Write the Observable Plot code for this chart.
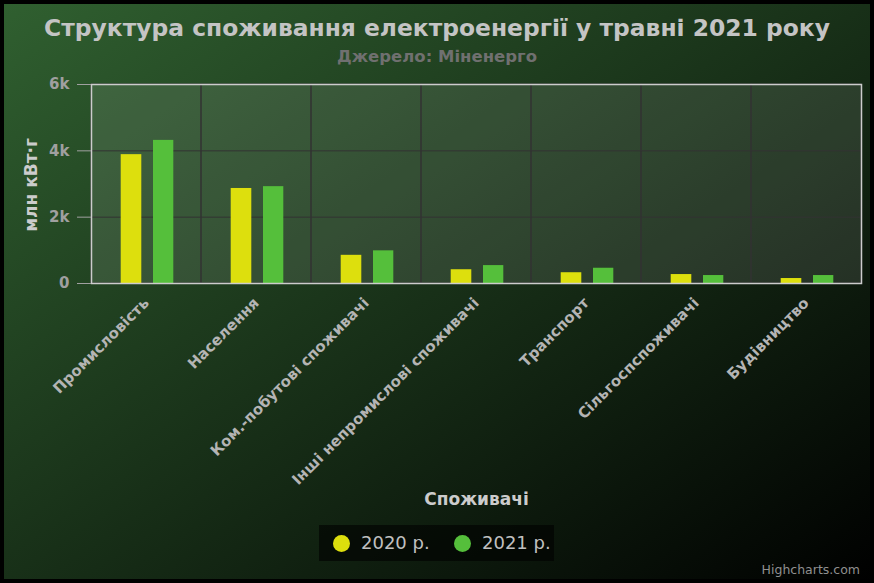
<!DOCTYPE html>
<html>
<head>
<meta charset="utf-8">
<script src="https://cdn.jsdelivr.net/npm/d3@7"></script>
<script src="https://cdn.jsdelivr.net/npm/@observablehq/plot@0.6"></script>
<style>
  html, body { margin: 0; padding: 0; background: #000; }
  #chart { position: relative; width: 874px; height: 583px; overflow: hidden;
    background: linear-gradient(to bottom right, rgb(48,96,48), rgb(0,0,0));
    font-family: "DejaVu Sans", sans-serif; }
  #border { position: absolute; left: 0; top: 0; width: 874px; height: 583px; box-sizing: border-box;
    border: 4px solid #000; pointer-events: none; }
  #title { position: absolute; left: 0; width: 874px; top: 13px; text-align: center;
    font-weight: bold; font-size: 23.4px; color: #c4c4c4; line-height: 30px; }
  #subtitle { position: absolute; left: 0; width: 874px; top: 46px; text-align: center;
    font-weight: bold; font-size: 16.5px; color: #707070; line-height: 22px; }
  #plot { position: absolute; left: 0; top: 70px; }
  #legend { position: absolute; left: 319px; top: 525px; width: 235px; height: 36px;
    background: rgba(0,0,0,0.6); }
  .item { position: absolute; top: 0; height: 36px; line-height: 36px; font-size: 18px; color: #c0c0c0; }
  .dot { position: absolute; top: 10px; width: 17px; height: 17px; border-radius: 50%; }
  #credits { position: absolute; right: 14px; top: 562px; font-size: 12.5px; color: #909090; }
</style>
</head>
<body>
<div id="chart">
  <div id="title"></div>
  <div id="subtitle"></div>
  <div id="plot"></div>
  <div id="legend"></div>
  <div id="credits">Highcharts.com</div>
  <div id="border"></div>
</div>
<script>
const titleText = "Структура споживання електроенергії у травні 2021 року";
const subtitleText = "Джерело: Міненерго";
const yAxisTitle = "млн кВт·г";
const xAxisTitle = "Споживачі";
const categories = ["Промисловість", "Населення", "Ком.-побутові споживачі", "Інші непромислові споживачі", "Транспорт", "Сільгоспспоживачі", "Будівництво"];
const seriesNames = ["2020 р.", "2021 р."];
const seriesColors = ["#DDDF0D", "#55BF3B"];
const values2020 = [3885, 2865, 850, 415, 325, 270, 150];
const values2021 = [4315, 2920, 985, 540, 460, 240, 240];
const yTicks = [0, 2000, 4000, 6000];
const yMax = 6000;

document.getElementById("title").textContent = titleText;
document.getElementById("subtitle").textContent = subtitleText;

const plot = Plot.plot({
  width: 874,
  height: 440,
  marginLeft: 91,
  marginRight: 13,
  marginTop: 14,
  marginBottom: 227,
  style: { fontFamily: "DejaVu Sans, sans-serif", background: "transparent", overflow: "visible" },
  x: { type: "band", domain: categories, padding: 0, axis: null },
  y: { domain: [0, yMax], axis: null },
  marks: [
    Plot.frame({ fill: "white", fillOpacity: 0.1 }),
    Plot.barY(categories, { x: d => d, y1: 0, y2: yMax, fill: "none", stroke: "#333", strokeWidth: 1 }),
    Plot.gridY(yTicks, { stroke: "#333", strokeOpacity: 1 }),
    Plot.barY(categories, { x: d => d, y: (d, i) => values2020[i], fill: seriesColors[0], insetLeft: 29.7, insetRight: 59.7 }),
    Plot.barY(categories, { x: d => d, y: (d, i) => values2021[i], fill: seriesColors[1], insetLeft: 62, insetRight: 27.7 }),
    Plot.frame({ stroke: "#cccccc", strokeWidth: 1.5 }),
    Plot.axisY(yTicks, { tickSize: 14, tickPadding: 8, stroke: "#a0a0a0", fill: "#a0a0a0", fontSize: 15, fontWeight: "bold",
      tickFormat: d => d === 0 ? "0" : (d / 1000) + "k", label: null }),
    Plot.axisX({ tickRotate: -45, tickSize: 0, tickPadding: 17, fill: "#b4b4b4", fontSize: 15, fontWeight: "bold", label: null }),
    Plot.text([yAxisTitle], { frameAnchor: "left", rotate: -90, dx: -60, dy: 1, textAnchor: "middle", lineAnchor: "middle",
      fill: "#cccccc", fontWeight: "bold", fontSize: 17 }),
    Plot.text([xAxisTitle], { frameAnchor: "bottom", dy: 216, textAnchor: "middle", lineAnchor: "middle",
      fill: "#cccccc", fontWeight: "bold", fontSize: 17 })
  ]
});
document.getElementById("plot").appendChild(plot);

const legend = document.getElementById("legend");
const itemLefts = [[14, 42], [135, 163]];
seriesNames.forEach((name, i) => {
  const dot = document.createElement("div");
  dot.className = "dot";
  dot.style.left = itemLefts[i][0] + "px";
  dot.style.background = seriesColors[i];
  legend.appendChild(dot);
  const t = document.createElement("div");
  t.className = "item";
  t.style.left = itemLefts[i][1] + "px";
  t.textContent = name;
  legend.appendChild(t);
});
</script>
</body>
</html>
